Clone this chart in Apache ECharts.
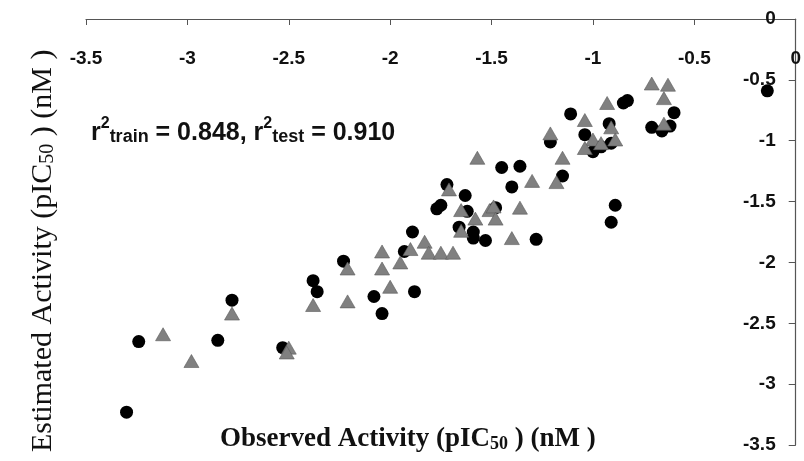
<!DOCTYPE html>
<html>
<head>
<meta charset="utf-8">
<script src="https://cdn.jsdelivr.net/npm/echarts@6/dist/echarts.min.js"></script>
<style>
  html, body { margin: 0; padding: 0; background: #fff; }
  #chart { width: 804px; height: 461px; }
</style>
</head>
<body>
<div id="chart"></div>
<script>
// training set (black circles): observed vs estimated pIC50
var trainObserved = [-3.30, -3.24, -2.85, -2.78, -2.53, -2.38, -2.36, -2.23, -2.08, -2.04,
  -1.88, -1.89, -1.93, -1.66, -1.59, -1.59, -1.53, -1.28, -1.72, -1.63,
  -1.75, -1.77, -1.62, -1.48, -1.45, -1.36, -1.40, -1.21, -1.15, -1.11,
  -1.04, -0.92, -0.91, -0.96, -1.00, -0.83, -0.85, -0.89, -0.91, -0.60,
  -0.71, -0.66, -0.62, -0.14];
var trainEstimated = [-3.23, -2.65, -2.64, -2.31, -2.70, -2.15, -2.24, -1.99, -2.28, -2.42,
  -2.24, -1.75, -1.91, -1.71, -1.75, -1.80, -1.82, -1.81, -1.36, -1.45,
  -1.53, -1.56, -1.58, -1.55, -1.22, -1.21, -1.38, -1.01, -1.29, -0.78,
  -0.95, -0.86, -1.02, -1.05, -1.09, -0.67, -0.69, -1.53, -1.67, -0.77,
  -0.89, -0.92, -0.88, -0.59];

// test set (grey triangles)
var testObserved = [-3.12, -2.98, -2.78, -2.50, -2.51, -2.38, -2.21, -2.21, -2.04, -2.04,
  -2.00, -1.95, -1.90, -1.83, -1.81, -1.75, -1.69, -1.65, -1.57, -1.71,
  -1.65, -1.58, -1.51, -1.49, -1.48, -1.36, -1.40, -1.30, -1.15, -1.18,
  -1.21, -1.04, -0.93, -0.91, -1.00, -0.96, -0.89, -1.04, -0.71, -0.63,
  -0.65, -0.65];
var testEstimated = [-2.59, -2.81, -2.42, -2.70, -2.74, -2.35, -2.05, -2.32, -1.91, -2.05,
  -2.20, -2.00, -1.89, -1.83, -1.92, -1.92, -1.92, -1.74, -1.14, -1.40,
  -1.57, -1.64, -1.57, -1.54, -1.64, -1.55, -1.80, -1.33, -1.14, -1.34,
  -0.94, -0.83, -0.69, -0.89, -0.99, -1.02, -0.99, -1.06, -0.53, -0.54,
  -0.65, -0.86];

var axisMin = -3.5, axisMax = 0, axisStep = 0.5;

function pairs(xs, ys) {
  return xs.map(function (x, i) { return [x, ys[i]]; });
}

var chart = echarts.init(document.getElementById("chart"), null, {renderer: "canvas"});

var tickFont = {
  color: "#111",
  fontFamily: "Liberation Sans",
  fontWeight: "bold",
  fontSize: 19
};

chart.setOption({
  animation: false,
  backgroundColor: "#fff",
  grid: {left: 86, right: 6, top: 19, bottom: 16},
  xAxis: {
    type: "value",
    position: "top",
    min: axisMin,
    max: axisMax,
    interval: axisStep,
    axisLine: {show: true, onZero: false, lineStyle: {color: "#555", width: 1.2}},
    axisTick: {show: true, inside: true, length: 6, lineStyle: {color: "#555"}},
    axisLabel: Object.assign({inside: true, margin: 30, showMaxLabel: true, showMinLabel: true}, tickFont),
    splitLine: {show: false}
  },
  yAxis: {
    type: "value",
    position: "right",
    min: axisMin,
    max: axisMax,
    interval: axisStep,
    axisLine: {show: true, onZero: false, lineStyle: {color: "#555", width: 1.2}},
    axisTick: {show: true, inside: true, length: 7, lineStyle: {color: "#555"}},
    axisLabel: Object.assign({inside: true, margin: 20, showMaxLabel: true, showMinLabel: true}, tickFont),
    splitLine: {show: false}
  },
  graphic: [
    {
      type: "text",
      left: 91,
      top: 116,
      style: {
        text: "{m|r}{sup|2}{sub|train}{m| = 0.848, r}{sup|2}{sub|test}{m| = 0.910}",
        rich: {
          m: {fontFamily: "Liberation Sans", fontWeight: "bold", fontSize: 25, fill: "#111", verticalAlign: "bottom", lineHeight: 30},
          sup: {fontFamily: "Liberation Sans", fontWeight: "bold", fontSize: 16, fill: "#111", verticalAlign: "top", lineHeight: 30},
          sub: {fontFamily: "Liberation Sans", fontWeight: "bold", fontSize: 18, fill: "#111", verticalAlign: "bottom", lineHeight: 26}
        }
      }
    },
    {
      type: "text",
      left: 220,
      top: 426,
      style: {
        text: "{m|Observed Activity (pIC}{sub|50}{m| ) (nM )}",
        rich: {
          m: {fontFamily: "Liberation Serif", fontWeight: "bold", fontSize: 27, fill: "#111", verticalAlign: "bottom", lineHeight: 32},
          sub: {fontFamily: "Liberation Serif", fontWeight: "bold", fontSize: 18, fill: "#111", verticalAlign: "bottom", lineHeight: 28}
        }
      }
    },
    {
      type: "text",
      x: 24,
      y: 452,
      rotation: Math.PI / 2,
      style: {
        text: "{m|Estimated Activity (pIC}{sub|50}{m| ) (nM )}",
        rich: {
          m: {fontFamily: "Liberation Serif", fontSize: 30, fill: "#111", verticalAlign: "bottom", lineHeight: 34},
          sub: {fontFamily: "Liberation Serif", fontSize: 20, fill: "#111", verticalAlign: "bottom", lineHeight: 29}
        }
      }
    }
  ],
  series: [
    {
      name: "train",
      type: "scatter",
      symbol: "circle",
      symbolSize: 13,
      itemStyle: {color: "#000", opacity: 1},
      data: pairs(trainObserved, trainEstimated),
      z: 2
    },
    {
      name: "test",
      type: "scatter",
      symbol: "triangle",
      symbolSize: [15, 13],
      itemStyle: {color: "#808080", borderColor: "#5a5a5a", borderWidth: 0.6, opacity: 1},
      data: pairs(testObserved, testEstimated),
      z: 3
    }
  ]
});
</script>
</body>
</html>
